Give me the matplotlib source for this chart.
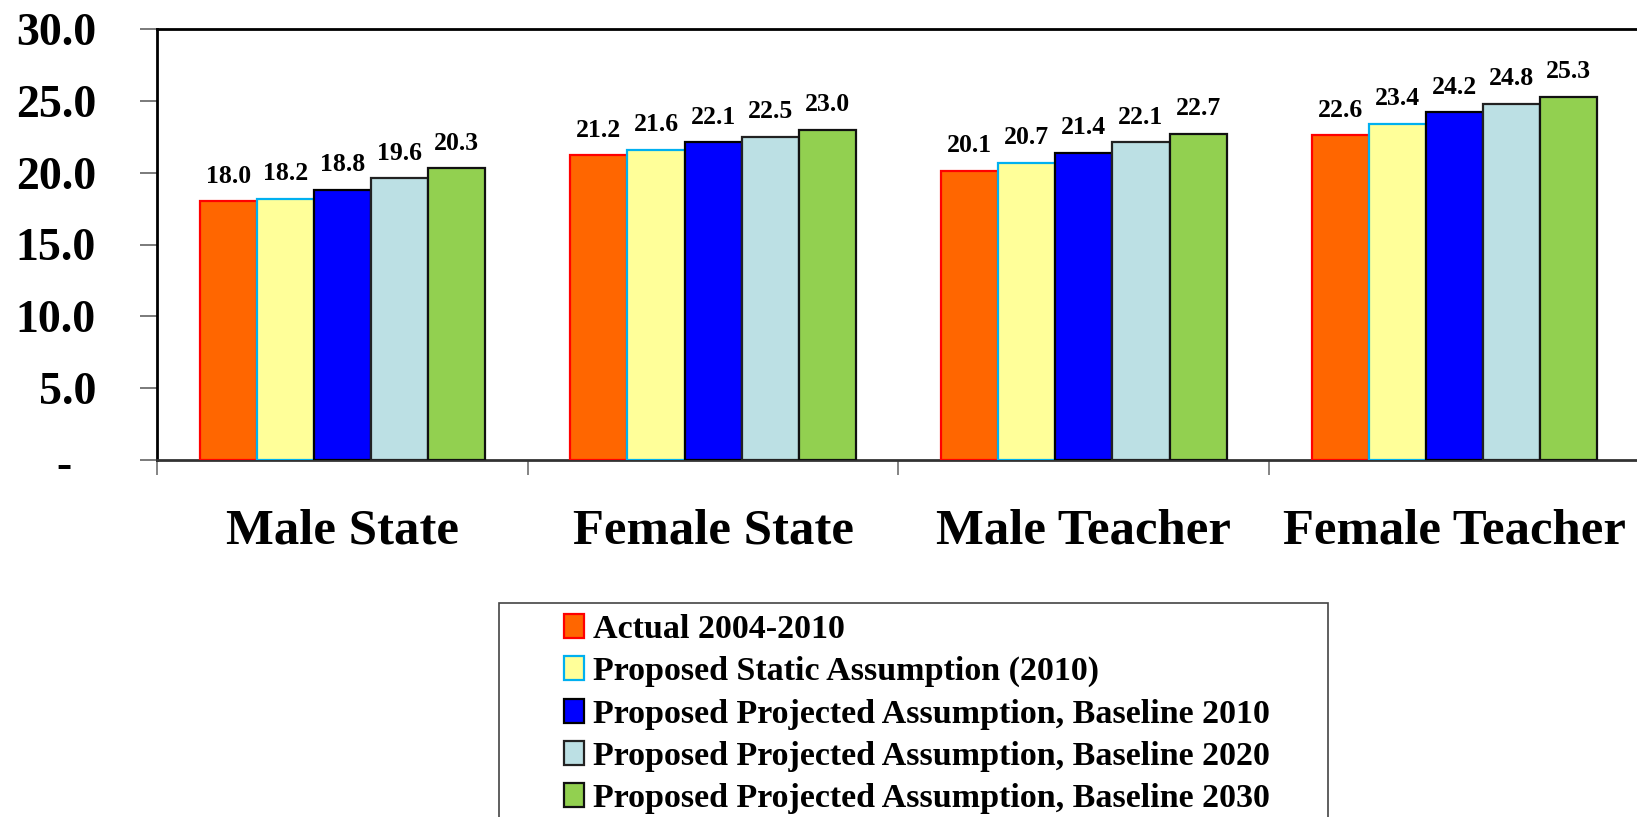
import matplotlib
matplotlib.use("Agg")
import matplotlib.pyplot as plt
from matplotlib.patches import Patch, Rectangle
import numpy as np

categories = ["Male State", "Female State", "Male Teacher", "Female Teacher"]
series_names = [
    "Actual 2004-2010",
    "Proposed Static Assumption (2010)",
    "Proposed Projected Assumption, Baseline 2010",
    "Proposed Projected Assumption, Baseline 2020",
    "Proposed Projected Assumption, Baseline 2030",
]
actual = [18.0, 21.2, 20.1, 22.6]
static_2010 = [18.2, 21.6, 20.7, 23.4]
proj_2010 = [18.8, 22.1, 21.4, 24.2]
proj_2020 = [19.6, 22.5, 22.1, 24.8]
proj_2030 = [20.3, 23.0, 22.7, 25.3]
yticks = [0, 5, 10, 15, 20, 25, 30]
ytick_labels = ["", "5.0", "10.0", "15.0", "20.0", "25.0", "30.0"]

series = [actual, static_2010, proj_2010, proj_2020, proj_2030]
faces = ["#FF6600", "#FFFF99", "#0000FF", "#BCE0E4", "#92D050"]
edges = ["#FF0000", "#00B0F0", "#000000", "#222222", "#111111"]

plt.rcParams["font.family"] = ["Liberation Serif", "DejaVu Serif"]
plt.rcParams["font.weight"] = "bold"

W, H = 1637, 817
fig = plt.figure(figsize=(W / 100, H / 100), dpi=100)
ax = fig.add_axes([157 / W, 1 - 460 / H, (1640 - 157) / W, (460 - 29) / H])

x = np.arange(len(categories))
bw = 0.154
for k, (vals, fc, ec) in enumerate(zip(series, faces, edges)):
    pos = x + (k - 2) * bw
    bars = ax.bar(pos, vals, width=bw, color=fc, edgecolor=ec, linewidth=1.6, zorder=3)
    for b, v in zip(bars, vals):
        ax.annotate(f"{v:.1f}", (b.get_x() + b.get_width() / 2, v),
                    xytext=(0, 13.5), textcoords="offset points",
                    ha="center", va="baseline", fontsize=18.5, fontweight="bold")

ax.set_xlim(-0.5, 3.5)
ax.set_ylim(0, 30)
ax.set_yticks(yticks)
ax.set_yticklabels(ytick_labels, fontsize=33, fontweight="bold")
ax.tick_params(axis="y", length=12, width=1.3, color="#707070", pad=32, direction="out")
ax.annotate("-", (-0.063, 0), xycoords=ax.get_yaxis_transform(),
            xytext=(0, -5), textcoords="offset points",
            ha="center", va="center", fontsize=33, fontweight="bold", annotation_clip=False)

ax.set_xticks(x)
ax.set_xticklabels(categories, fontsize=36.5, fontweight="bold")
ax.set_xticks(np.arange(-0.5, 3.6, 1.0), minor=True)
ax.tick_params(axis="x", which="major", length=0, pad=35)
ax.tick_params(axis="x", which="minor", length=11, width=1.2, color="#707070", direction="out")

for side in ["left", "top", "right"]:
    ax.spines[side].set_linewidth(2)
    ax.spines[side].set_color("black")
ax.spines["bottom"].set_linewidth(2)
ax.spines["bottom"].set_color("#333333")

# legend box
fig.add_artist(Rectangle((499 / W, -0.05), (1328 - 499) / W, (1 - 603 / H) + 0.05,
                         transform=fig.transFigure, facecolor="white",
                         edgecolor="#444444", linewidth=1.2, zorder=0))

handles = [Patch(facecolor=fc, edgecolor=ec, linewidth=1.6) for fc, ec in zip(faces, edges)]
leg = fig.legend(handles, series_names, loc="upper left",
                 bbox_to_anchor=(564 / W, 1 - 614 / H), bbox_transform=fig.transFigure,
                 prop={"weight": "bold", "size": 24.5},
                 frameon=False,
                 handlelength=0.6, handleheight=0.7, handletextpad=0.24,
                 labelspacing=0.33, borderpad=0, borderaxespad=0)

fig.savefig("out.png", dpi=100)
